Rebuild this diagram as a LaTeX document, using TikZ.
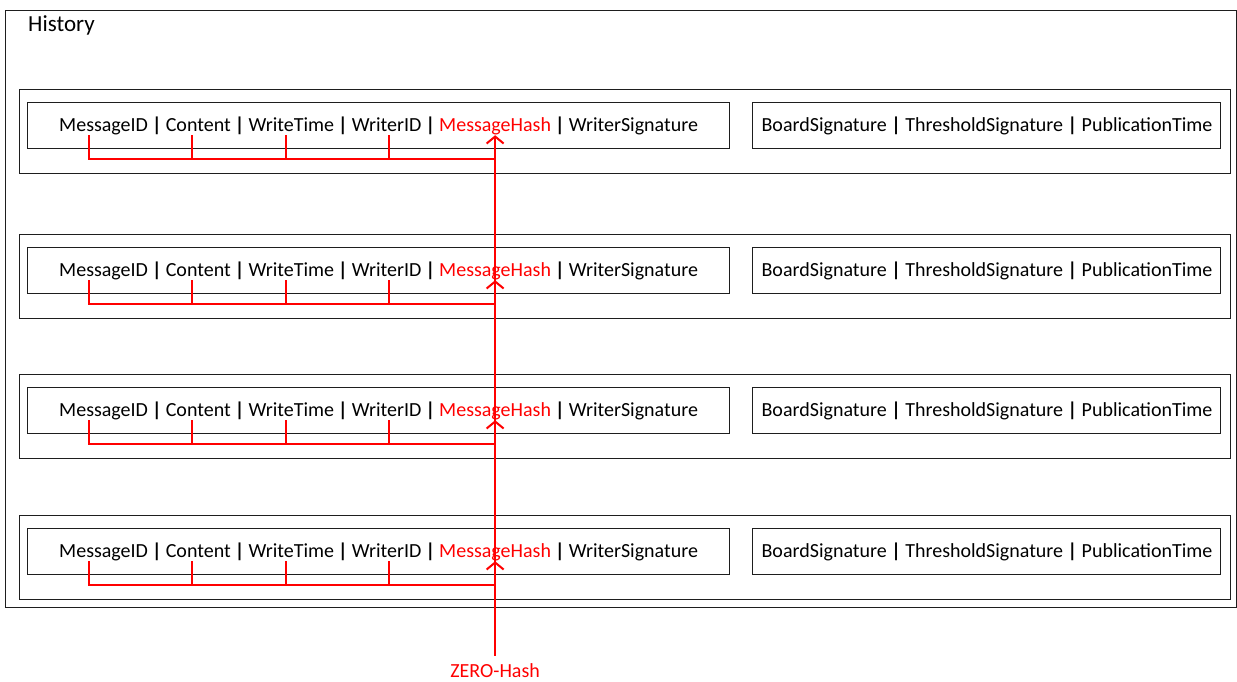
\documentclass[tikz,border=0pt]{standalone}
\usepackage{fontspec}
\setmainfont{Carlito}
\usetikzlibrary{arrows.meta, positioning}
\definecolor{HR}{RGB}{255,0,0}
\definecolor{DG}{RGB}{30,30,30}

\begin{document}
\begin{tikzpicture}[x=1pt, y=-1pt,
  box/.style={draw=DG, line width=0.9pt, inner sep=0pt, minimum width=#1},
  fld/.style={inner sep=0pt, text height=14pt, text depth=4pt,
              font=\fontsize{20}{24}\selectfont},
  bar/.style={fld, minimum width=17pt},
  link/.style={draw=HR, line width=2pt},
  arr/.style={link, -{Straight Barb[length=7pt,width=17pt]}}
]
\useasboundingbox (0,0) rectangle (1237,681);

% History frame
\node[box=1231pt, minimum height=597pt] (hist) at (620.5,308.5) {};
\node[fld, font=\fontsize{23}{27}\selectfont, anchor=west] (htitle) at (28,26) {History};

% Entries
\foreach \i/\y in {1/125, 2/270, 3/410, 4/551}{
  \node[box=1211pt, minimum height=84pt] (row\i) at (624.5,\y+6) {};
  \node[box=702pt, minimum height=46pt] (msg\i) at (378,\y) {};
  \node[box=468pt, minimum height=46pt] (brd\i) at (986,\y) {};
  % message fields
  \node[fld, anchor=west] (id\i) at (59,\y+1) {MessageID};
  \node[bar, right=0pt of id\i] (s1\i) {\textbf{|}};
  \node[fld, right=0pt of s1\i] (ct\i) {Content};
  \node[bar, right=0pt of ct\i] (s2\i) {\textbf{|}};
  \node[fld, right=0pt of s2\i] (wt\i) {WriteTime};
  \node[bar, right=0pt of wt\i] (s3\i) {\textbf{|}};
  \node[fld, right=0pt of s3\i] (wid\i) {WriterID};
  \node[bar, right=0pt of wid\i] (s4\i) {\textbf{|}};
  \node[fld, text=HR, right=0pt of s4\i] (hash\i) {MessageHash};
  \node[bar, right=0pt of hash\i] (s5\i) {\textbf{|}};
  \node[fld, right=0pt of s5\i] (ws\i) {WriterSignature};
  % board fields
  \node[fld] (bf\i) at (987,\y+1)
    {BoardSignature \textbf{|} ThresholdSignature \textbf{|} PublicationTime};
  % hash inputs
  \path (hash\i.south) ++(0,24) coordinate (jn\i);
  \draw[link] ([xshift=-15pt]id\i.south) |- (jn\i);
  \draw[link] ([xshift=-6pt]ct\i.south) -- ([xshift=-6pt]ct\i.south |- jn\i);
  \draw[link] ([xshift=-5pt]wt\i.south) -- ([xshift=-5pt]wt\i.south |- jn\i);
  \draw[link] ([xshift=2pt]wid\i.south) -- ([xshift=2pt]wid\i.south |- jn\i);
}

% Chain of hashes
\node[fld, text=HR, inner ysep=7pt] (zero) at (hash4.south |- 0,672) {ZERO-Hash};
\draw[arr] (zero) -- (hash4.south);
\draw[arr] (jn4) -- (hash3.south);
\draw[arr] (jn3) -- (hash2.south);
\draw[arr] (jn2) -- (hash1.south);
\end{tikzpicture}
\end{document}
